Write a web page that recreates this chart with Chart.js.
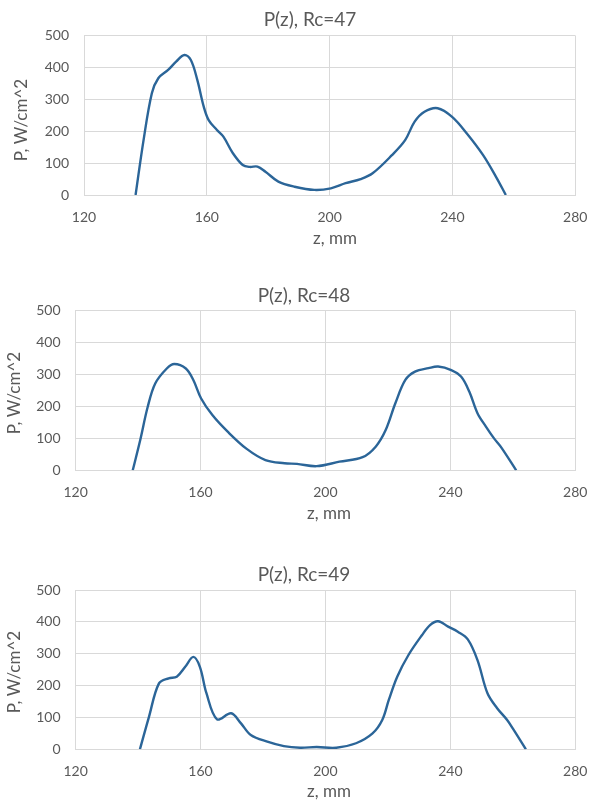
<!DOCTYPE html>
<html>
<head>
<meta charset="utf-8">
<script src="https://cdn.jsdelivr.net/npm/chart.js@4.4.1/dist/chart.umd.min.js"></script>
<style>
  html, body { margin: 0; padding: 0; background: #ffffff; overflow: hidden; }
  body { width: 601px; height: 800px; position: relative; }
  .box { position: absolute; left: 0; width: 601px; }
</style>
</head>
<body>
<div class="box" style="top:0px;height:262px;"><canvas id="c1"></canvas></div>
<div class="box" style="top:270px;height:262px;"><canvas id="c2"></canvas></div>
<div class="box" style="top:540px;height:260px;"><canvas id="c3"></canvas></div>
<script>
// ---- data ----
const titles = ["P(z), Rc=47", "P(z), Rc=48", "P(z), Rc=49"];
const xAxisTitle = "z, mm";
const yAxisTitle = "P, W/cm^2";
const xTicks = [120, 160, 200, 240, 280];
const yTicks = [0, 100, 200, 300, 400, 500];

const z47 = [136.8, 139.4, 142.1, 144.2, 147.4, 150.0, 152.7, 154.8, 156.9, 159.0, 160.6, 163.3, 165.4, 168.5, 171.7, 174.0, 176.5, 179.1, 183.3, 188.6, 195.0, 200.4, 205.2, 210.1, 214.0, 220.3, 224.6, 227.7, 230.9, 235.2, 239.9, 244.7, 250.0, 254.2, 257.4];
const p47 = [0, 172, 319, 366, 392, 418, 439, 423, 361, 277, 235, 204, 183, 131, 94, 88, 89, 73, 42, 26, 16, 21, 37, 50, 68, 125, 172, 230, 261, 272, 245, 193, 125, 57, 0];

const z48 = [138.3, 140.7, 143.1, 145.5, 149.2, 151.6, 155.3, 157.7, 160.2, 163.8, 168.7, 174.8, 180.8, 186.9, 190.9, 197.2, 204.5, 211.9, 216.1, 219.3, 222.4, 225.6, 228.7, 233.0, 236.1, 240.3, 243.5, 246.1, 248.7, 251.4, 254.0, 256.3, 261.1];
const p48 = [0, 95, 199, 272, 319, 333, 319, 283, 225, 173, 121, 67, 32, 22, 20, 13, 27, 41, 74, 126, 210, 283, 309, 320, 325, 314, 293, 246, 179, 137, 100, 72, 0];

const z49 = [140.6, 143.5, 146.7, 149.8, 152.4, 155.1, 157.7, 159.8, 161.9, 165.3, 169.8, 172.9, 176.1, 181.4, 186.7, 191.9, 197.2, 203.5, 209.8, 215.1, 218.2, 220.3, 223.0, 226.6, 230.9, 233.5, 236.1, 239.3, 242.4, 245.6, 248.7, 251.9, 255.0, 258.2, 260.3, 264.2];
const p49 = [0, 102, 207, 223, 228, 259, 290, 259, 176, 94, 113, 82, 45, 24, 10, 5, 7, 5, 19, 50, 92, 155, 228, 296, 358, 390, 402, 385, 369, 345, 280, 176, 129, 92, 61, 0];

// ---- styling / layout ----
const TEXT = '#595959';
const GRID = '#d9d9d9';
const LINE = '#2b6598';
const FAMILY = "Lato, 'Open Sans', 'Liberation Sans', sans-serif";
const TITLE_SIZE = 19;
const AXIS_TITLE_SIZE = 17;
const TICK_SIZE = 14;

// positions are local to each canvas
const layouts = [
  { id: 'c1', z: z47, p: p47, title: titles[0], padTop: 35.5, yWidth: 84, padRight: 13, xHeight: 67,
    tx: 310, ty: 20, xtx: 335, xty: 239, ytx: 22, yty: 120 },
  { id: 'c2', z: z48, p: p48, title: titles[1], padTop: 40.7, yWidth: 75.6, padRight: 19.3, xHeight: 61.7,
    tx: 304, ty: 26, xtx: 329, xty: 244, ytx: 15, yty: 123 },
  { id: 'c3', z: z49, p: p49, title: titles[2], padTop: 50, yWidth: 75.6, padRight: 19.3, xHeight: 50.7,
    tx: 304, ty: 35, xtx: 329, xty: 252, ytx: 15, yty: 132 }
];

const textPlugin = {
  id: 'refTexts',
  afterDraw(chart, args, o) {
    const ctx = chart.ctx;
    ctx.save();
    ctx.fillStyle = TEXT;
    ctx.textAlign = 'center';
    ctx.textBaseline = 'middle';
    ctx.font = TITLE_SIZE + 'px ' + FAMILY;
    ctx.fillText(o.title, o.tx, o.ty);
    ctx.font = AXIS_TITLE_SIZE + 'px ' + FAMILY;
    ctx.fillText(xAxisTitle, o.xtx, o.xty);
    ctx.translate(o.ytx, o.yty);
    ctx.rotate(-Math.PI / 2);
    ctx.fillText(yAxisTitle, 0, 0);
    ctx.restore();
  }
};

Chart.defaults.font.family = FAMILY;
Chart.defaults.color = TEXT;

layouts.forEach(L => {
  const pts = L.z.map((zv, i) => ({ x: zv, y: L.p[i] }));
  new Chart(document.getElementById(L.id), {
    type: 'line',
    data: {
      datasets: [{
        data: pts,
        borderColor: LINE,
        borderWidth: 2.4,
        pointRadius: 0,
        pointHoverRadius: 0,
        tension: 0.35,
        fill: false
      }]
    },
    plugins: [textPlugin],
    options: {
      responsive: true,
      maintainAspectRatio: false,
      animation: false,
      events: [],
      layout: { padding: { left: 0, right: L.padRight, top: L.padTop, bottom: 0 } },
      plugins: {
        legend: { display: false },
        tooltip: { enabled: false },
        title: { display: false },
        refTexts: { title: L.title, tx: L.tx, ty: L.ty, xtx: L.xtx, xty: L.xty, ytx: L.ytx, yty: L.yty }
      },
      scales: {
        x: {
          type: 'linear',
          min: xTicks[0],
          max: xTicks[xTicks.length - 1],
          afterBuildTicks: s => { s.ticks = xTicks.map(v => ({ value: v })); },
          afterFit: s => { s.height = L.xHeight; },
          grid: { color: GRID, lineWidth: 1, drawTicks: false },
          border: { color: GRID, width: 1 },
          ticks: { color: TEXT, font: { size: TICK_SIZE }, padding: 13.6, maxRotation: 0 }
        },
        y: {
          type: 'linear',
          min: yTicks[0],
          max: yTicks[yTicks.length - 1],
          afterBuildTicks: s => { s.ticks = yTicks.map(v => ({ value: v })); },
          afterFit: s => { s.width = L.yWidth; },
          grid: { color: GRID, lineWidth: 1, drawTicks: false },
          border: { color: GRID, width: 1 },
          ticks: { color: TEXT, font: { size: TICK_SIZE }, padding: 15 }
        }
      }
    }
  });
});
</script>
</body>
</html>
